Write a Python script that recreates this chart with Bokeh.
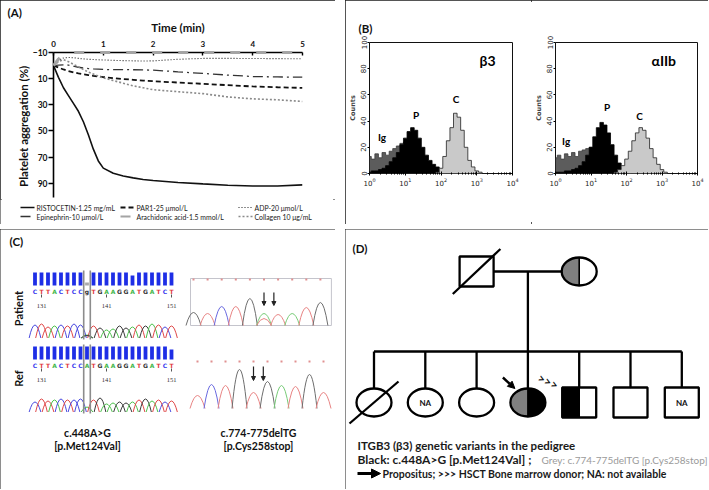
import numpy as np
from bokeh.plotting import figure
from bokeh.models import (Range1d, FixedTicker, Arrow, NormalHead)
from bokeh.layouts import row, column
from bokeh.embed import file_html
from bokeh.resources import INLINE
from bokeh.core.properties import value

FONT = "Lato"
BOX = {"outline": "2px solid #1c1c1c", "outline-offset": "-2px"}

# ---------------- Panel A data: platelet aggregation ----------------
time_min = [0, 0.1, 0.2, 0.3, 0.4, 0.5, 0.6, 0.7, 0.8, 0.9, 1.0, 1.2, 1.4, 1.6,
            1.8, 2.0, 2.5, 3.0, 3.5, 4.0, 4.5, 5.0]
ristocetin = [0, 9, 17, 23, 29, 35, 43, 53, 64, 73, 78.5, 82.5, 84.5, 86, 87.2,
              88, 89.5, 90.6, 91.6, 92.2, 92.2, 91.3]
par1 = [0, 1.5, 3, 4.2, 5.2, 6, 6.7, 7.3, 7.9, 8.4, 8.8, 9.6, 10.3, 10.9, 11.5,
        12, 13, 14, 15, 16, 16.6, 17.1]
adp = [0, -4, -5.8, -6.2, -6, -5.5, -5.1, -4.8, -4.6, -4.4, -4.3, -4, -3.8, -3.6,
       -3.5, -3.6, -4.8, -5.5, -5.5, -5.4, -5.3, -5.2]
epinephrin = [0, -0.3, -0.6, -0.4, 0.5, 1.3, 1.9, 2.3, 2.6, 2.8, 3.0, 3.1, 3.1,
              3.2, 3.3, 3.5, 4.8, 6.0, 7.3, 8.4, 8.7, 8.9]
arachidonic = [0, -5, -8.5, -9.8, -10, -10, -10, -10, -10, -10, -10, -10, -10,
               -10, -10, -10, -10, -10, -10, -10, -10, -10]
collagen = [0, -3, -4.5, -3, -1, 1, 3, 5, 6.5, 8, 9.5, 11.5, 13.5, 15.5, 17,
            18.5, 20, 21.5, 24, 25.5, 26.2, 27.5]
agg_x_ticks = [0, 1, 2, 3, 4, 5]
agg_y_ticks = [-10, 10, 30, 50, 70, 90]
agg_labels = ["RISTOCETIN-1.25 mg/mL", "PAR1-25 \u03bcmol/L", "ADP-20 \u03bcmol/L",
              "Epinephrin-10 \u03bcmol/L", "Arachidonic acid-1.5 mmol/L",
              "Collagen 10 \u03bcg/mL"]

# ---------------- Panel B data: flow cytometry histograms ----------------
hist_log10_bins = [0.0, 0.1, 0.2, 0.3, 0.4, 0.5, 0.6, 0.7, 0.8, 0.9, 1.0, 1.1,
                   1.2, 1.3, 1.4, 1.5, 1.6, 1.7, 1.8, 1.9, 2.0, 2.1, 2.2, 2.3,
                   2.4, 2.5, 2.6, 2.7, 2.8, 2.9, 3.0, 3.1, 3.2, 3.3]
beta3_ig = [13, 11, 15, 12, 16, 14, 17, 19, 21, 23, 24, 22, 19, 15, 11, 8, 5, 3,
            2, 1, 0, 0, 0, 0, 0, 0, 0, 0, 0, 0, 0, 0, 0, 0]
beta3_p = [1, 2, 2, 3, 4, 6, 9, 12, 16, 22, 27, 32, 35, 33, 27, 20, 14, 10, 7, 5,
           3, 1, 0, 0, 0, 0, 0, 0, 0, 0, 0, 0, 0, 0]
beta3_c = [0, 0, 0, 0, 0, 0, 0, 0, 0, 0, 0, 0, 0, 0, 0, 0, 0, 0, 0, 1, 4, 13, 25,
           35, 46, 43, 33, 20, 10, 5, 2, 1, 0, 0]
aiib_ig = [12, 14, 11, 15, 13, 16, 13, 17, 18, 19, 20, 18, 14, 10, 7, 4, 2, 1, 0,
           0, 0, 0, 0, 0, 0, 0, 0, 0, 0, 0, 0, 0, 0, 0]
aiib_p = [1, 1, 1, 2, 2, 3, 4, 6, 9, 14, 20, 28, 35, 39, 37, 31, 22, 14, 8, 4, 2,
          1, 0, 0, 0, 0, 0, 0, 0, 0, 0, 0, 0, 0]
aiib_c = [0, 0, 0, 0, 0, 0, 0, 0, 0, 0, 0, 0, 0, 0, 0, 0, 0, 1, 3, 6, 11, 17, 25,
          31, 35, 33, 27, 19, 12, 7, 3, 1, 0, 0]
hist_y_ticks = [0, 20, 40, 60, 80, 100]
beta3_tags = ["Ig", "P", "C"]
beta3_tag_log10x = [0.35, 1.3, 2.42]
beta3_tag_y = [28, 45, 57]
aiib_tags = ["Ig", "P", "C"]
aiib_tag_log10x = [0.3, 1.45, 2.37]
aiib_tag_y = [25, 51, 44]

# ---------------- Panel C data: sequencing ----------------
seq_patient = list("CTTACTCCgTGAAGGATGATCT")
seq_ref = list("CTTACTCCATGAAGGATGATCT")
qual_patient = [13, 13, 13, 13, 13, 13, 13, 13, 3, 13, 13, 13, 13, 13, 13, 10,
                13, 13, 13, 13, 13, 13]
qual_ref = [13, 13, 13, 13, 13, 13, 13, 13, 13, 13, 13, 13, 13, 13, 13, 13, 13,
            13, 13, 13, 13, 10]
peak_patient = [13, 14, 11, 12, 13, 12, 14, 13, 3, 12, 10, 8, 9, 12, 10, 11, 13,
                12, 14, 13, 11, 12]
peak_ref = [10, 13, 11, 12, 13, 12, 12, 13, 5, 12, 14, 8, 9, 10, 9, 10, 12, 13,
            11, 12, 10, 11]
seq_numbers = ["131", "141", "151"]
seq_number_index = [1, 11, 21]
het_index = 8
het_extra_base = "G"
het_extra_height = 2.5
del_patient_bases = ["G", "T", "C", "T", "G", "A", "T", "A", "T", "G"]
del_patient_heights = [13, 12, 19, 19, 27, 12, 11, 12, 18, 23]
del_patient_extra = ("T", 5, 7)   # base, peak index, height
del_ref_bases = ["T", "C", "T", "G", "T", "G", "A", "T", "G", "T"]
del_ref_heights = [13, 24, 23, 39, 16, 27, 23, 22, 34, 16]
del_arrow_index_patient = [5.0, 5.7]
del_arrow_index_ref = [4.0, 4.7]

# ---------------- Panel D data: pedigree ----------------
ped_child_sex = ["F", "F", "F", "F", "M", "M", "M"]
ped_child_left = ["#ffffff", "#ffffff", "#ffffff", "#808080", "#000000", "#ffffff", "#ffffff"]
ped_child_right = ["#ffffff", "#ffffff", "#ffffff", "#000000", "#ffffff", "#ffffff", "#ffffff"]
ped_child_deceased = [1, 0, 0, 0, 0, 0, 0]
ped_child_note = ["", "NA", "", "", "", "", "NA"]
ped_parent_sex = ["M", "F"]
ped_parent_slot = [2, 4]
ped_parent_left = ["#ffffff", "#808080"]
ped_parent_right = ["#ffffff", "#ffffff"]
ped_parent_deceased = [1, 0]
ped_descent_slot = 3
ped_propositus = 3
ped_donor = 4

BASE_COL = {"A": "#3fb64a", "C": "#3a3aee", "G": "#333333", "T": "#e0393e",
            "g": "#333333"}
TRACE_COL = {"A": "#4cc24c", "C": "#4a4ae0", "G": "#3a3a3a", "T": "#e04848",
             "g": "#3a3a3a"}
SOFT_COL = {"A": "#78cc78", "C": "#6a6ae0", "G": "#6e6e6e", "T": "#e88484"}


def panel_title(p, text, offset, standoff):
    p.title.text = text
    p.title.align = "left"
    p.title.offset = offset
    p.title.standoff = standoff
    p.title.text_font = FONT
    p.title.text_font_size = "11.5px"
    p.title.text_font_style = "bold"
    p.title.text_color = "#111111"


# ======================= Panel A =======================
WA, HA_MAIN, HA_LEG = 335, 199, 25
A_LEFT, A_RIGHT, A_TOP, A_BOTTOM = 53, 33, 52, 2
pA = figure(width=WA, height=HA_MAIN, x_range=Range1d(0, 5),
            y_range=Range1d(101, -10), title="(A)",
            x_axis_location="above", output_backend="svg", toolbar_location=None,
            min_border_left=A_LEFT, min_border_right=A_RIGHT, min_border_top=A_TOP,
            min_border_bottom=A_BOTTOM, frame_align=False)
panel_title(pA, "(A)", 7 - A_LEFT, -3)
pA.grid.visible = False
pA.outline_line_color = None
for ax in (pA.xaxis[0], pA.yaxis[0]):
    ax.axis_line_width = 1.6
    ax.major_tick_line_width = 1.4
    ax.minor_tick_line_color = None
    ax.major_label_text_font = FONT
    ax.major_label_text_font_style = "bold"
    ax.axis_label_text_font = FONT
    ax.axis_label_text_font_style = "bold"
    ax.major_label_text_color = "#111111"
    ax.axis_label_text_color = "#111111"
pA.xaxis.ticker = FixedTicker(ticks=agg_x_ticks)
pA.yaxis.ticker = FixedTicker(ticks=agg_y_ticks)
pA.xaxis.axis_label = "Time (min)"
pA.xaxis.axis_label_text_font_size = "11.5px"
pA.xaxis.major_label_text_font_size = "8px"
pA.xaxis.major_tick_in = 3
pA.xaxis.major_tick_out = 0
pA.xaxis.major_label_standoff = 6
pA.xaxis.axis_label_standoff = 4
pA.yaxis.axis_label = "Platelet aggregation  (%)"
pA.yaxis.axis_label_text_font_size = "11.5px"
pA.yaxis.major_label_text_font_size = "8.5px"
pA.yaxis.major_tick_in = 0
pA.yaxis.major_tick_out = 5
pA.yaxis.major_label_standoff = 1
pA.yaxis.axis_label_standoff = 0

styles = [
    dict(line_color="#111111", line_width=1.6, line_dash="solid"),
    dict(line_color="#111111", line_width=1.8, line_dash="5 3"),
    dict(line_color="#222222", line_width=1.1, line_dash="1 2"),
    dict(line_color="#333333", line_width=1.3, line_dash="10 4 2 4"),
    dict(line_color="#a4a4a4", line_width=3.0, line_dash="10 16"),
    dict(line_color="#8a8a8a", line_width=1.6, line_dash="2 2"),
]
series = [ristocetin, par1, adp, epinephrin, arachidonic, collagen]
for k, (ys, st) in enumerate(zip(series, styles)):
    r = pA.line(time_min, ys, **st)
    if k == 4:
        r.level = "overlay"   # grey dashes show on top of the time axis

# legend strip under the plot: a key built from the same line styles
pAleg = figure(width=WA, height=HA_LEG, x_range=Range1d(0, WA), y_range=Range1d(HA_LEG, 0),
               x_axis_location=None, y_axis_location=None, output_backend="svg",
               toolbar_location=None, min_border=0, frame_align=False)
pAleg.grid.visible = False
pAleg.outline_line_color = None
key_col_x = [20, 120, 238]
key_row_y = [8, 17]
key_sample_len = 14
for k, (lab, st) in enumerate(zip(agg_labels, styles)):
    cx0 = key_col_x[k % 3]
    cy0 = key_row_y[k // 3]
    kst = dict(st)
    kst["line_width"] = min(st["line_width"], 2.0)
    pAleg.line([cx0, cx0 + key_sample_len], [cy0, cy0], **kst)
    pAleg.text(x=[cx0 + key_sample_len + 2], y=[cy0], text=[lab],
               text_font=value(FONT), text_font_size="6.9px", text_color="#1a1a1a",
               text_baseline="middle")
panelA = column(pA, pAleg, spacing=0, styles=BOX)

# ======================= Panel B =======================
HB = 224
B_TOP, B_BOTTOM = 42, 51
hist_x = [10 ** b for b in hist_log10_bins]
zeros = [0] * len(hist_x)


def hist_fig(width, bl, br, ig, pp, cc, tags, tag_lx, tag_y, name, name_lx):
    p = figure(width=width, height=HB, x_axis_type="log",
               x_range=Range1d(1, 10000), y_range=Range1d(0, 100),
               output_backend="svg", toolbar_location=None,
               min_border_left=bl, min_border_right=br, min_border_top=B_TOP,
               min_border_bottom=B_BOTTOM, frame_align=False)
    p.grid.visible = False
    p.outline_line_color = "#111111"
    p.outline_line_width = 1
    p.varea_step(x=hist_x, y1=zeros, y2=ig, step_mode="center", fill_color="#5c5c5c")
    p.step(hist_x, ig, mode="center", line_color="#3c3c3c", line_width=0.8)
    p.varea_step(x=hist_x, y1=zeros, y2=pp, step_mode="center", fill_color="#000000")
    p.step(hist_x, pp, mode="center", line_color="#000000", line_width=0.8)
    p.varea_step(x=hist_x, y1=zeros, y2=cc, step_mode="center", fill_color="#c9c9c9")
    p.step(hist_x, cc, mode="center", line_color="#222222", line_width=0.8)
    p.text(x=[10 ** v for v in tag_lx], y=tag_y, text=tags, text_font=value(FONT),
           text_font_style="bold", text_font_size="10px", text_align="center",
           text_baseline="middle", text_color="#000000")
    p.text(x=[10 ** name_lx], y=[86], text=[name], text_font=value(FONT),
           text_font_style="bold", text_font_size="14px", text_align="center",
           text_baseline="middle", text_color="#000000")
    p.yaxis.ticker = FixedTicker(ticks=hist_y_ticks)
    p.yaxis.major_label_orientation = "vertical"
    p.yaxis.axis_label = "Counts"
    p.yaxis.axis_label_text_font = "DejaVu Sans"
    p.yaxis.axis_label_text_font_size = "6.5px"
    p.yaxis.axis_label_text_font_style = "bold"
    p.yaxis.axis_label_standoff = 1
    p.yaxis.major_label_standoff = 1
    p.yaxis.major_tick_out = 2
    p.yaxis.major_tick_in = 0
    p.yaxis.minor_tick_line_color = None
    for ax in (p.xaxis[0], p.yaxis[0]):
        ax.major_label_text_font = "DejaVu Sans"
        ax.major_label_text_font_size = "7px"
        ax.major_label_text_color = "#222222"
        ax.axis_line_color = None
    p.xaxis.major_tick_out = 2
    p.xaxis.major_tick_in = 2
    p.xaxis.minor_tick_out = 1
    p.xaxis.minor_tick_in = 1
    p.xaxis.major_label_standoff = 2
    return p


bL = hist_fig(186, 18, 19, beta3_ig, beta3_p, beta3_c, beta3_tags,
              beta3_tag_log10x, beta3_tag_y, "\u03b23", 3.3)
bR = hist_fig(177, 20, 11, aiib_ig, aiib_p, aiib_c, aiib_tags,
              aiib_tag_log10x, aiib_tag_y, "\u03b1IIb", 3.05)
panel_title(bL, "(B)", 7 - 18, 15)
panelB = row(bL, bR, spacing=0, styles=BOX)

# ======================= Panel C =======================
WC, HC = 335, 260
pC = figure(width=WC, height=HC, x_range=Range1d(-2, 333), y_range=Range1d(259, -1),
            x_axis_location=None, y_axis_location=None, output_backend="svg",
            toolbar_location=None, min_border=0, frame_align=False)
pC.styles = BOX
pC.grid.visible = False
pC.outline_line_color = None

SEQ_X0, SEQ_DX = 32.5, 6.5


def peaks(p, xs, base_y, heights, cols, half_w, lw=1.0):
    p.quadratic(x0=[x - half_w for x in xs], y0=[base_y] * len(xs),
                x1=[x + half_w for x in xs], y1=[base_y] * len(xs),
                cx=xs, cy=[base_y - 2 * h for h in heights],
                line_color=cols, line_width=lw)


def seq_block(p, y0, seq, qual, pk, extra=None):
    n = len(seq)
    xs = [SEQ_X0 + SEQ_DX * i for i in range(n)]
    bar_cols = ["#1e2ee6" if q > 5 else "#aaaaaa" for q in qual]
    p.vbar(x=xs, bottom=[y0 + 13] * n, top=[y0 + 13 - q for q in qual], width=3.8,
           fill_color=bar_cols, line_color=None)
    p.text(x=xs, y=[y0 + 18.5] * n, text=seq, text_color=[BASE_COL[b] for b in seq],
           text_font=value("DejaVu Sans"), text_font_style="bold",
           text_font_size="6px", text_align="center", text_baseline="middle")
    nx = [xs[i] for i in seq_number_index]
    p.segment(x0=nx, y0=[y0 + 22] * 3, x1=nx, y1=[y0 + 25] * 3,
              line_color="#555555", line_width=1)
    p.text(x=nx, y=[y0 + 33] * 3, text=seq_numbers, text_color="#333333",
           text_font=value("Liberation Serif"), text_font_size="6.5px",
           text_align="center", text_baseline="middle")
    base = y0 + 65.5
    cols = [TRACE_COL["A"] if (i == het_index and b == "g") else TRACE_COL[b]
            for i, b in enumerate(seq)]
    peaks(p, xs, base, pk, cols, SEQ_DX * 0.9)
    if extra is not None:
        peaks(p, [xs[het_index]], base, [extra[1]], [TRACE_COL[extra[0]]], SEQ_DX * 0.9)
    hx = xs[het_index]
    p.segment(x0=[hx - 3.3, hx + 3.3], y0=[y0 - 2] * 2, x1=[hx - 3.3, hx + 3.3],
              y1=[y0 + 67] * 2, line_color="#8c8c8c", line_width=1.6)


seq_block(pC, 42, seq_patient, qual_patient, peak_patient,
          (het_extra_base, het_extra_height))
seq_block(pC, 116, seq_ref, qual_ref, peak_ref)

DP_X0, DP_DX, DP_BASE = 191, 14.1, 95
DR_X0, DR_DX, DR_BASE = 195, 14.0, 178
dp_x = [DP_X0 + DP_DX * i for i in range(len(del_patient_bases))]
dr_x = [DR_X0 + DR_DX * i for i in range(len(del_ref_bases))]
pC.quad(left=[dp_x[0] - 3], right=[dp_x[-1] + 11], top=[DP_BASE - 47],
        bottom=[DP_BASE], fill_color=None, line_color="#c4c4cc", line_width=1)
peaks(pC, dp_x, DP_BASE, del_patient_heights,
      [SOFT_COL[b] for b in del_patient_bases], 7.5)
peaks(pC, [dp_x[del_patient_extra[1]]], DP_BASE, [del_patient_extra[2]],
      [SOFT_COL[del_patient_extra[0]]], 7.5)
peaks(pC, dr_x, DR_BASE, del_ref_heights, [SOFT_COL[b] for b in del_ref_bases], 7.5)
pC.scatter(dp_x, [DP_BASE - 46] * len(dp_x), size=2, marker="square",
           color="#e09090", line_color=None)
pC.scatter(dr_x, [DR_BASE - 47] * len(dr_x), size=2, marker="square",
           color="#e09090", line_color=None)
for idx in del_arrow_index_patient:
    ax_ = DP_X0 + DP_DX * idx
    pC.add_layout(Arrow(end=NormalHead(size=4, fill_color="#222222", line_color="#222222"),
                        x_start=ax_, y_start=DP_BASE - 33, x_end=ax_, y_end=DP_BASE - 20,
                        line_color="#222222", line_width=1.2))
for idx in del_arrow_index_ref:
    ax_ = DR_X0 + DR_DX * idx
    pC.add_layout(Arrow(end=NormalHead(size=4, fill_color="#222222", line_color="#222222"),
                        x_start=ax_, y_start=DR_BASE - 42, x_end=ax_, y_end=DR_BASE - 28,
                        line_color="#222222", line_width=1.2))

txt = dict(text_font=value(FONT), text_font_style="bold", text_color="#111111",
           text_baseline="middle")
pC.text(x=[7], y=[11], text=["(C)"], text_font_size="11.5px", **txt)
pC.text(x=[16, 16], y=[78, 148], text=["Patient", "Ref"], angle=np.pi / 2,
        text_align="center", text_font_size="11px", **txt)
pC.text(x=[85, 85, 256, 256], y=[202, 215, 202, 215],
        text=["c.448A>G", "[p.Met124Val]", "c.774-775delTG", "[p.Cys258stop]"],
        text_align="center", text_font_size="10.5px", **txt)

# ======================= Panel D =======================
WD, HD = 363, 260
pD = figure(width=WD, height=HD, x_range=Range1d(0, 363), y_range=Range1d(259, -1),
            x_axis_location=None, y_axis_location=None, output_backend="svg",
            toolbar_location=None, min_border=0, frame_align=False)
pD.styles = BOX
pD.grid.visible = False
pD.outline_line_color = None

PED_X0, PED_DX = 28.5, 51.3
GEN_Y = [41, 172]
SIB_Y = 121
LW = 2.3


def half_ellipse(cx, cy, w, h, side):
    t = np.linspace(-np.pi / 2, np.pi / 2, 40)
    xs = cx + side * (w / 2) * np.cos(t)
    ys = cy + (h / 2) * np.sin(t)
    return list(xs), list(ys)


def member(p, cx, cy, sex, left, right, dead, note):
    if sex == "M":
        w, h = 34, 30
        p.quad(left=[cx - w / 2, cx], right=[cx, cx + w / 2], top=[cy - h / 2] * 2,
               bottom=[cy + h / 2] * 2, fill_color=[left, right], line_color=None)
        p.rect(x=[cx], y=[cy], width=w, height=h, fill_color=None,
               line_color="#000000", line_width=LW)
    else:
        w, h = 35, 28
        lx, ly = half_ellipse(cx, cy, w, h, -1)
        rx, ry = half_ellipse(cx, cy, w, h, 1)
        p.patches(xs=[lx, rx], ys=[ly, ry], fill_color=[left, right], line_color=None)
        p.ellipse(x=[cx], y=[cy], width=w, height=h, fill_color=None,
                  line_color="#000000", line_width=LW)
    if left != right:
        p.segment(x0=[cx], y0=[cy - h / 2], x1=[cx], y1=[cy + h / 2],
                  line_color="#000000", line_width=1.6)
    if dead:
        p.segment(x0=[cx - w * 0.7], y0=[cy + h * 0.75], x1=[cx + w * 0.7],
                  y1=[cy - h * 0.75], line_color="#000000", line_width=LW)
    if note:
        p.text(x=[cx], y=[cy], text=[note], text_font=value(FONT), text_font_style="bold",
               text_font_size="8px", text_align="center", text_baseline="middle",
               text_color="#111111")


child_x = [PED_X0 + PED_DX * i for i in range(len(ped_child_sex))]
parent_x = [PED_X0 + PED_DX * s for s in ped_parent_slot]
desc_x = PED_X0 + PED_DX * ped_descent_slot
pD.segment(x0=[parent_x[0] + 17, desc_x, child_x[0]],
           y0=[GEN_Y[0], GEN_Y[0], SIB_Y],
           x1=[parent_x[1] - 17, desc_x, child_x[-1]],
           y1=[GEN_Y[0], SIB_Y, SIB_Y], line_color="#000000", line_width=LW)
pD.segment(x0=child_x, y0=[SIB_Y] * len(child_x), x1=child_x,
           y1=[GEN_Y[1] - 14] * len(child_x), line_color="#000000", line_width=LW)
for i in range(2):
    member(pD, parent_x[i], GEN_Y[0], ped_parent_sex[i], ped_parent_left[i],
           ped_parent_right[i], ped_parent_deceased[i], "")
for i in range(len(child_x)):
    member(pD, child_x[i], GEN_Y[1], ped_child_sex[i], ped_child_left[i],
           ped_child_right[i], ped_child_deceased[i], ped_child_note[i])

px = child_x[ped_propositus]
pD.add_layout(Arrow(end=NormalHead(size=7, fill_color="#000000", line_color="#000000"),
                    x_start=px - 25, y_start=GEN_Y[1] - 25, x_end=px - 13,
                    y_end=GEN_Y[1] - 14, line_color="#000000", line_width=2.4))
dx_ = child_x[ped_donor]
pD.text(x=[dx_ - 31], y=[GEN_Y[1] - 21], text=[">>>"], angle=-0.45,
        text_font=value(FONT), text_font_style="bold", text_font_size="12px",
        text_align="center", text_baseline="middle", text_color="#111111")

pD.text(x=[7], y=[18], text=["(D)"], text_font_size="11.5px", **txt)
foot_b = dict(text_font=value(FONT), text_font_style="bold", text_baseline="middle",
              text_color="#1a1a1a")
pD.text(x=[12], y=[215], text=["ITGB3 (\u03b23) genetic variants in the pedigree"],
        text_font_size="11.5px", **foot_b)
pD.text(x=[12], y=[229], text=["Black: c.448A>G [p.Met124Val] ;"],
        text_font_size="12px", **foot_b)
pD.text(x=[196], y=[229], text=["Grey: c.774-775delTG [p.Cys258stop]"],
        text_font=value(FONT), text_font_size="10px", text_baseline="middle",
        text_color="#9a9a9a")
pD.text(x=[37], y=[243],
        text=["Propositus;  >>> HSCT Bone marrow donor; NA: not available"],
        text_font_size="10.5px", **foot_b)
pD.add_layout(Arrow(end=NormalHead(size=9, fill_color="#000000", line_color="#000000"),
                    x_start=12, y_start=243, x_end=35, y_end=243,
                    line_color="#000000", line_width=3))

layout = column(row(panelA, panelB, spacing=10), row(pC, pD, spacing=10), spacing=5)
open("out.html", "w").write(file_html(layout, INLINE))
